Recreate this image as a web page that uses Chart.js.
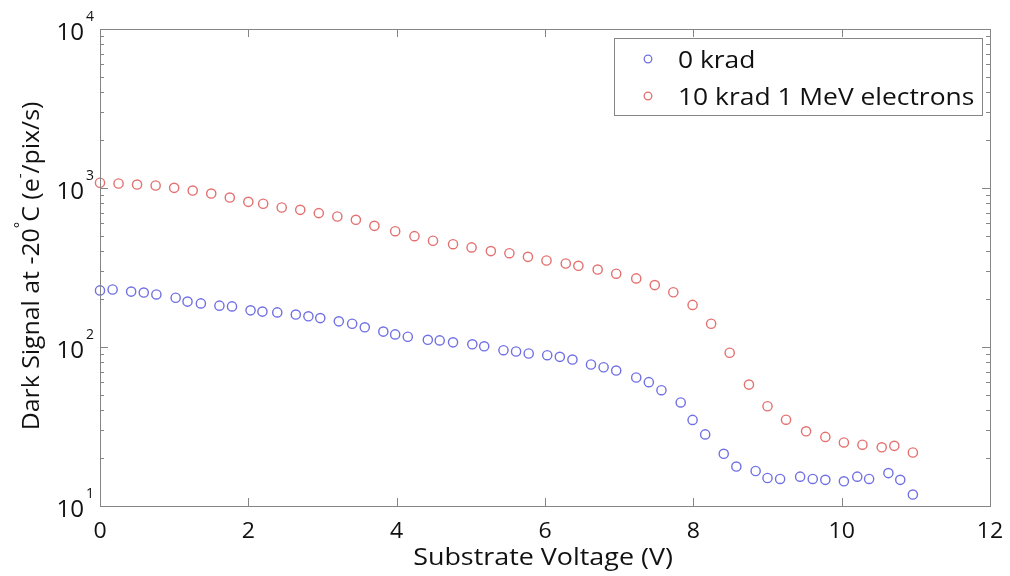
<!DOCTYPE html>
<html>
<head>
<meta charset="utf-8">
<script src="https://cdn.jsdelivr.net/npm/chart.js@4.4.0/dist/chart.umd.min.js"></script>
<style>
  html, body { margin: 0; padding: 0; background: #fff; }
</style>
</head>
<body>
<canvas id="graficoSinal" width="1010" height="576"></canvas>
<script>
// ====== DADOS ======
const tensao0 = [0, 0.17, 0.42, 0.59, 0.76, 1.02, 1.18, 1.36, 1.61, 1.78, 2.03, 2.19, 2.39, 2.64, 2.81, 2.97,
  3.22, 3.40, 3.57, 3.82, 3.98, 4.15, 4.42, 4.58, 4.76, 5.02, 5.18, 5.44, 5.61, 5.78, 6.03, 6.20, 6.37,
  6.62, 6.79, 6.96, 7.23, 7.40, 7.57, 7.83, 7.99, 8.16, 8.41, 8.58, 8.84, 9.00, 9.17, 9.44, 9.61, 9.78,
  10.03, 10.21, 10.37, 10.63, 10.79, 10.96];
const sinal0 = [227, 230, 223, 220, 214, 204, 193, 188, 182, 180, 170, 167, 165, 160, 156, 152,
  145, 140, 133, 125, 120, 116, 111, 110, 107, 104, 101, 95.5, 93.7, 91, 88.8, 86.7, 83.4,
  77.6, 74.6, 71.1, 64.3, 60.1, 53.5, 44.8, 34.8, 28.2, 21.3, 17.7, 16.6, 15.0, 14.8, 15.3, 14.8, 14.6,
  14.3, 15.3, 14.8, 16.1, 14.6, 11.8];

const tensao10 = [0, 0.25, 0.5, 0.75, 1.0, 1.25, 1.5, 1.75, 2.0, 2.2, 2.45, 2.7, 2.95, 3.2, 3.45, 3.7,
  3.98, 4.24, 4.49, 4.76, 5.01, 5.27, 5.52, 5.77, 6.02, 6.28, 6.45, 6.71, 6.96, 7.23, 7.48, 7.73,
  7.99, 8.24, 8.49, 8.75, 9.0, 9.25, 9.52, 9.78, 10.03, 10.28, 10.54, 10.71, 10.96];
const sinal10 = [1079, 1067, 1051, 1037, 1002, 964, 923, 871, 818, 796, 754, 729, 695, 662, 631, 578,
  535, 498, 466, 443, 423, 401, 389, 369, 350, 335, 324, 307, 289, 270, 245, 221,
  184, 140, 92, 58, 42.4, 34.9, 29.5, 27.2, 25.1, 24.3, 23.4, 23.9, 21.7];

const legendas = ["0 krad", "10 krad 1 MeV electrons"];
const cores = ["#7070e4", "#e47070"];
const ticksX = [0, 2, 4, 6, 8, 10, 12];
const expoentesY = [1, 2, 3, 4];

const FONTE = "'Open Sans', Lato, sans-serif";
const COR_EIXO = "#858585";
const COR_TEXTO = "#111";

function pontos(xs, ys) {
  return xs.map((x, i) => ({ x, y: ys[i] }));
}

// texto esticado na horizontal (a fonte original é mais larga)
function textoLargo(c, txt, x, y, esticar, alinhar) {
  c.save();
  c.translate(x, y);
  c.scale(esticar, 1);
  c.textAlign = alinhar;
  c.fillText(txt, 0, 0);
  c.restore();
}

// ====== PLUGIN: moldura, ticks, textos e legenda ======
const moldura = {
  id: "moldura",
  afterDraw(chart) {
    const c = chart.ctx;
    const a = chart.chartArea;
    const sx = chart.scales.x;
    const sy = chart.scales.y;

    c.save();
    c.strokeStyle = COR_EIXO;
    c.lineWidth = 1;
    c.strokeRect(a.left + 0.5, a.top + 0.5, a.right - a.left, a.bottom - a.top);

    // ticks X (dentro, embaixo e em cima)
    c.beginPath();
    ticksX.forEach(v => {
      const px = Math.round(sx.getPixelForValue(v)) + 0.5;
      c.moveTo(px, a.bottom); c.lineTo(px, a.bottom - 8);
      c.moveTo(px, a.top); c.lineTo(px, a.top + 8);
    });
    // ticks Y (maiores e menores)
    for (let d = 1; d <= 4; d++) {
      for (let m = 1; m <= 9; m++) {
        if (d === 4 && m > 1) break;
        const py = Math.round(sy.getPixelForValue(m * Math.pow(10, d))) + 0.5;
        const len = m === 1 ? 8 : 4;
        c.moveTo(a.left, py); c.lineTo(a.left + len, py);
        c.moveTo(a.right, py); c.lineTo(a.right - len, py);
      }
    }
    c.stroke();

    // rótulos X
    c.fillStyle = COR_TEXTO;
    c.font = "22px " + FONTE;
    c.textBaseline = "alphabetic";
    ticksX.forEach(v => {
      textoLargo(c, String(v), sx.getPixelForValue(v), a.bottom + 32, 1.05, "center");
    });

    // rótulos Y: 10 com expoente
    expoentesY.forEach(e => {
      const py = sy.getPixelForValue(Math.pow(10, e));
      c.font = "23px " + FONTE;
      textoLargo(c, "10", a.left - 16, py + 11, 1.05, "right");
      c.font = "14px " + FONTE;
      c.textAlign = "left";
      c.fillText(String(e), a.left - 14, py - 8);
    });

    // título X
    c.font = "24px " + FONTE;
    textoLargo(c, "Substrate Voltage (V)", 543, 565, 1.12, "center");

    // título Y (com sobrescritos)
    c.save();
    c.translate(39, 266);
    c.rotate(-Math.PI / 2);
    c.scale(1.08, 1);
    const partes = [
      ["Dark Signal at -20", 23, 0],
      ["°", 14, -14],
      ["C (e", 23, 0],
      ["-", 14, -14],
      ["/pix/s)", 23, 0]
    ];
    let largura = 0;
    partes.forEach(p => { c.font = p[1] + "px " + FONTE; largura += c.measureText(p[0]).width; });
    let cx = -largura / 2;
    c.textAlign = "left";
    c.textBaseline = "alphabetic";
    partes.forEach(p => {
      c.font = p[1] + "px " + FONTE;
      c.fillText(p[0], cx, p[2]);
      cx += c.measureText(p[0]).width;
    });
    c.restore();

    // legenda
    const lx = 614, ly = 38, lw = 368, lh = 77;
    c.fillStyle = "#fff";
    c.fillRect(lx, ly, lw, lh);
    c.strokeStyle = COR_EIXO;
    c.strokeRect(lx + 0.5, ly + 0.5, lw, lh);
    legendas.forEach((txt, i) => {
      const yy = ly + 21 + i * 37;
      c.beginPath();
      c.strokeStyle = cores[i];
      c.lineWidth = 1.3;
      c.arc(lx + 34, yy, 3.8, 0, Math.PI * 2);
      c.stroke();
      c.fillStyle = COR_TEXTO;
      c.font = "24px " + FONTE;
      c.textBaseline = "alphabetic";
      textoLargo(c, txt, lx + 64, yy + 9, 1.1, "left");
    });
    c.restore();
  }
};

// ====== GRÁFICO ======
const ctx = document.getElementById("graficoSinal").getContext("2d");

new Chart(ctx, {
  type: "scatter",
  data: {
    datasets: [
      { label: legendas[0], data: pontos(tensao0, sinal0), borderColor: cores[0], backgroundColor: "transparent",
        pointRadius: 4.6, pointBorderWidth: 1.4, pointHoverRadius: 4.6, clip: false },
      { label: legendas[1], data: pontos(tensao10, sinal10), borderColor: cores[1], backgroundColor: "transparent",
        pointRadius: 4.6, pointBorderWidth: 1.4, pointHoverRadius: 4.6, clip: false }
    ]
  },
  options: {
    responsive: false,
    animation: false,
    layout: { padding: { left: 100, right: 20, top: 29, bottom: 70 } },
    plugins: { legend: { display: false }, tooltip: { enabled: false } },
    scales: {
      x: { type: "linear", min: 0, max: 12, display: false },
      y: { type: "logarithmic", min: 10, max: 10000, display: false }
    }
  },
  plugins: [moldura]
});
</script>
</body>
</html>
